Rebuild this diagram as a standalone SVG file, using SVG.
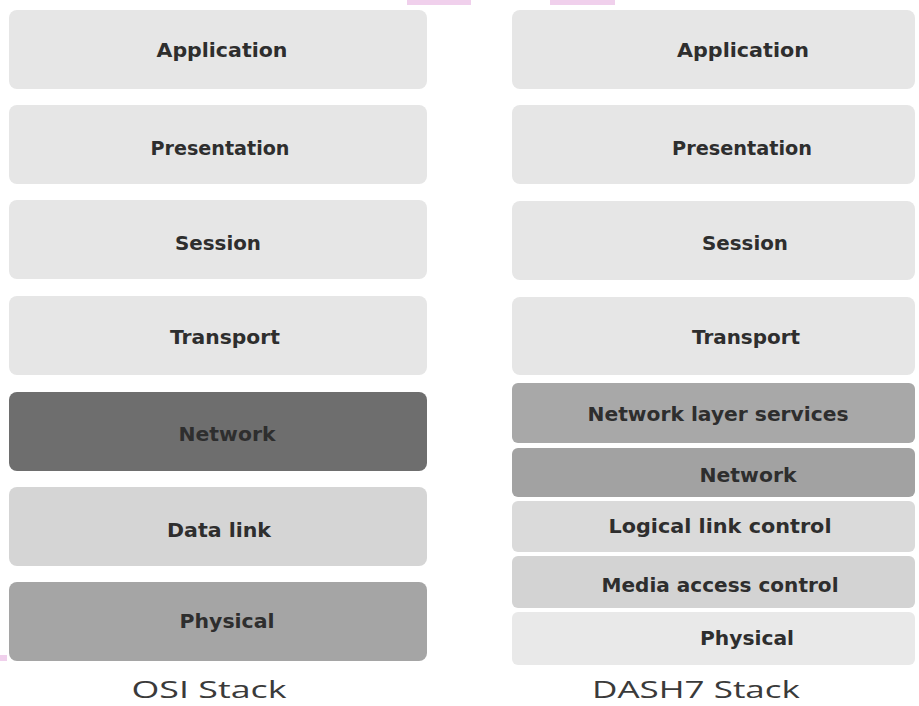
<svg xmlns="http://www.w3.org/2000/svg" width="919" height="706" viewBox="0 0 919 706">
  <style>
    .lbl { font-family: "DejaVu Sans", Verdana, sans-serif; font-weight: bold; font-size: 19px; fill: #2e2e2e; text-anchor: middle; }
    .cap { font-family: "Open Sans", "DejaVu Sans", sans-serif; font-size: 24px; fill: #3a3a3a; text-anchor: middle; }
    .light { fill: #e6e6e6; }
    .mid { fill: #d5d5d5; }
    .grey { fill: #a5a5a5; }
    .dark { fill: #6e6e6e; }
    .tag { fill: #f0d0ec; }
  </style>
  <rect width="919" height="706" fill="#ffffff"/>

  <!-- small pink marks along the edges -->
  <rect class="tag" x="407" y="0" width="64" height="5"/>
  <rect class="tag" x="550" y="0" width="65" height="5"/>
  <rect class="tag" x="0" y="655" width="7" height="6"/>

  <!-- OSI stack -->
  <g id="osi-application"><rect class="light" x="9" y="10" width="418" height="79" rx="8"/><text class="lbl" x="222" y="57" textLength="131" lengthAdjust="spacingAndGlyphs">Application</text></g>
  <g id="osi-presentation"><rect class="light" x="9" y="105" width="418" height="79" rx="8"/><text class="lbl" x="220" y="155" textLength="139" lengthAdjust="spacingAndGlyphs">Presentation</text></g>
  <g id="osi-session"><rect class="light" x="9" y="200" width="418" height="79" rx="8"/><text class="lbl" x="218" y="250" textLength="86" lengthAdjust="spacingAndGlyphs">Session</text></g>
  <g id="osi-transport"><rect class="light" x="9" y="296" width="418" height="79" rx="8"/><text class="lbl" x="225" y="344" textLength="110" lengthAdjust="spacingAndGlyphs">Transport</text></g>
  <g id="osi-network"><rect class="dark" x="9" y="392" width="418" height="79" rx="8"/><text class="lbl" x="227" y="441" textLength="97" lengthAdjust="spacingAndGlyphs">Network</text></g>
  <g id="osi-datalink"><rect class="mid" x="9" y="487" width="418" height="79" rx="8"/><text class="lbl" x="219" y="537" textLength="104" lengthAdjust="spacingAndGlyphs">Data link</text></g>
  <g id="osi-physical"><rect class="grey" x="9" y="582" width="418" height="79" rx="8"/><text class="lbl" x="227" y="628" textLength="95" lengthAdjust="spacingAndGlyphs">Physical</text></g>
  <text class="cap" x="209" y="698" textLength="155" lengthAdjust="spacingAndGlyphs">OSI Stack</text>

  <!-- DASH7 stack -->
  <g id="d7-application"><rect class="light" x="512" y="10" width="403" height="79" rx="8"/><text class="lbl" x="743" y="57" textLength="132" lengthAdjust="spacingAndGlyphs">Application</text></g>
  <g id="d7-presentation"><rect class="light" x="512" y="105" width="403" height="79" rx="8"/><text class="lbl" x="742" y="155" textLength="140" lengthAdjust="spacingAndGlyphs">Presentation</text></g>
  <g id="d7-session"><rect class="light" x="512" y="201" width="403" height="79" rx="8"/><text class="lbl" x="745" y="250" textLength="86" lengthAdjust="spacingAndGlyphs">Session</text></g>
  <g id="d7-transport"><rect class="light" x="512" y="297" width="403" height="78" rx="8"/><text class="lbl" x="746" y="344" textLength="108" lengthAdjust="spacingAndGlyphs">Transport</text></g>
  <g id="d7-nls"><rect fill="#a8a8a8" x="512" y="383" width="403" height="60" rx="6"/><text class="lbl" x="718" y="421" textLength="261" lengthAdjust="spacingAndGlyphs">Network layer services</text></g>
  <g id="d7-network"><rect fill="#a2a2a2" x="512" y="448" width="403" height="49" rx="6"/><text class="lbl" x="748" y="482" textLength="97" lengthAdjust="spacingAndGlyphs">Network</text></g>
  <g id="d7-llc"><rect fill="#dadada" x="512" y="501" width="403" height="51" rx="6"/><text class="lbl" x="720" y="533" textLength="223" lengthAdjust="spacingAndGlyphs">Logical link control</text></g>
  <g id="d7-mac"><rect fill="#d3d3d3" x="512" y="556" width="403" height="52" rx="6"/><text class="lbl" x="720" y="592" textLength="237" lengthAdjust="spacingAndGlyphs">Media access control</text></g>
  <g id="d7-physical"><rect fill="#e9e9e9" x="512" y="612" width="403" height="53" rx="6"/><text class="lbl" x="747" y="645" textLength="94" lengthAdjust="spacingAndGlyphs">Physical</text></g>
  <text class="cap" x="696" y="698" textLength="208" lengthAdjust="spacingAndGlyphs">DASH7 Stack</text>

  <!-- no connectors in this layer diagram -->
  <g id="connectors"/>
</svg>
